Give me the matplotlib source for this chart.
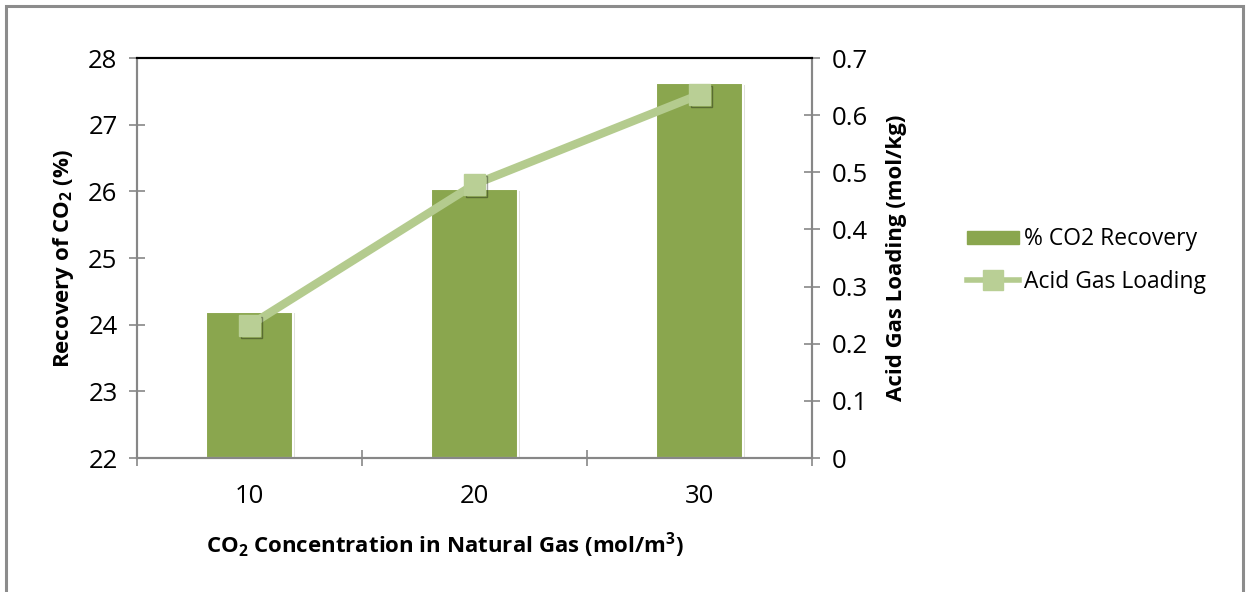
import matplotlib
matplotlib.use('Agg')
import matplotlib.pyplot as plt
from matplotlib.patches import Rectangle
from matplotlib.lines import Line2D
import matplotlib.patheffects as pe
import numpy as np

plt.rcParams['font.family'] = ['Open Sans', 'DejaVu Sans']
plt.rcParams['mathtext.fontset'] = 'custom'
plt.rcParams['mathtext.rm'] = 'Open Sans:bold'
plt.rcParams['mathtext.bf'] = 'Open Sans:bold'

# data
concentration = ['10', '20', '30']
recovery = [24.19, 26.03, 27.62]        # % CO2 recovery (left axis)
loading = [0.232, 0.479, 0.636]         # acid gas loading mol/kg (right axis)

bar_col = '#8AA64E'
line_col = '#B4CB8E'
mark_col = '#B9CF95'
axis_col = '#878787'

fig = plt.figure(figsize=(12.47, 5.92), dpi=100)
# outer chart border
fig.patches.append(Rectangle((6/1247, -0.01), 1237/1247, 1 - 6/592 + 0.01,
                             transform=fig.transFigure, fill=False,
                             edgecolor='#8c8c8c', linewidth=2.2))

ax = fig.add_axes([137/1247, 134/592, 675/1247, 400/592])
x = np.arange(len(concentration))
ax.bar(x, np.array(recovery) - 22, bottom=22, width=0.39, color=bar_col,
       edgecolor='white', linewidth=1.5, zorder=2,
       path_effects=[pe.SimplePatchShadow(offset=(1, -1), alpha=0.15), pe.Normal()])
ax.set_xlim(-0.5, 2.5)
ax.set_ylim(22, 28)
ax.set_yticks(range(22, 29))

ax2 = ax.twinx()
ax2.plot(x, loading, color=line_col, linewidth=6, zorder=3)
ax2.plot(x, loading, linestyle='none', marker='s', markersize=15,
         markerfacecolor=mark_col, markeredgecolor=mark_col, zorder=4,
         path_effects=[pe.SimpleLineShadow(offset=(1.5, -1.5), alpha=0.35), pe.Normal()])
ax2.set_ylim(0, 0.7)
ax2.set_yticks(np.arange(0, 0.71, 0.1))
ax2.set_yticklabels(['0', '0.1', '0.2', '0.3', '0.4', '0.5', '0.6', '0.7'])

# x ticks at category boundaries, labels at centers
ax.set_xticks([-0.5, 0.5, 1.5, 2.5])
ax.set_xticklabels([])
ax.set_xticks(x, minor=True)
ax.set_xticklabels(concentration, minor=True)
ax.tick_params(axis='x', which='minor', length=0, pad=19, labelsize=18.5)
ax.tick_params(axis='x', which='major', direction='inout', length=12,
               color=axis_col, width=1.2)
ax.tick_params(axis='y', direction='inout', length=12, color=axis_col,
               width=1.2, labelsize=18.5, pad=8)
ax2.tick_params(axis='y', direction='inout', length=12, color=axis_col,
                width=1.2, labelsize=18.5, pad=8)

for a in (ax, ax2):
    for s in ('left', 'right', 'bottom'):
        a.spines[s].set_color(axis_col)
        a.spines[s].set_linewidth(1.5)
    a.spines['top'].set_color('black')
    a.spines['top'].set_linewidth(1.5)

ax.set_ylabel(r'Recovery of CO$_2$ (%)', fontsize=16, fontweight='bold')
ax.yaxis.set_label_coords(-0.09, 0.5)
ax2.set_ylabel('Acid Gas Loading (mol/kg)', fontsize=16, fontweight='bold')
ax2.yaxis.set_label_coords(1.11, 0.5)
ax.set_xlabel(r'CO$_2$ Concentration in Natural Gas (mol/m$^3$)', fontsize=16,
              fontweight='bold')
ax.xaxis.set_label_coords(0.456, -0.18)

handles = [Rectangle((0, 0), 1, 1, color=bar_col),
           Line2D([], [], color=line_col, linewidth=4, marker='s', markersize=15,
                  markerfacecolor=mark_col, markeredgecolor=mark_col)]
labels = ['% CO2 Recovery', 'Acid Gas Loading']
fig.legend(handles, labels, loc='center left', bbox_to_anchor=(0.759, 0.56),
           frameon=False, fontsize=16.5, handlelength=2.25, handleheight=0.5,
           labelspacing=0.8, handletextpad=0.25)

fig.savefig('out.png', dpi=100)
